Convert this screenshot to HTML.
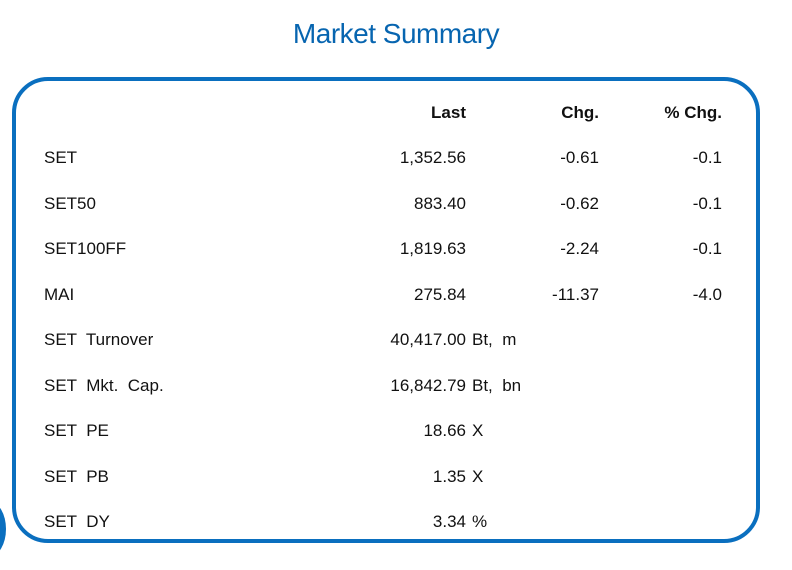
<!DOCTYPE html>
<html><head><meta charset="utf-8"><style>
body{margin:0;width:792px;height:570px;background:#fff;position:relative;overflow:hidden;font-family:"Liberation Sans",sans-serif;color:#111}
.t{position:absolute;left:0;width:792px;top:18px;text-align:center;font-size:28px;color:#0765b0;letter-spacing:-0.5px}
.box{position:absolute;left:12px;top:77px;width:740px;height:458px;border:4px solid #0a6fbf;border-radius:36px}
.c{position:absolute;left:-26px;top:502px;width:32px;height:54px;border-radius:50%;background:#0a6fbf}
.r{position:absolute;font-size:17px;white-space:pre;transform:translateY(-50%)}
.h{font-weight:bold}
.ra{text-align:right}
</style></head><body>
<div class="t">Market Summary</div>
<div class="box"></div>
<div class="c"></div>
<div id="tbl"></div>
<script>
const labels=["SET","SET50","SET100FF","MAI","SET  Turnover","SET  Mkt.  Cap.","SET  PE","SET  PB","SET  DY"];
const lastVals=["1,352.56","883.40","1,819.63","275.84","40,417.00","16,842.79","18.66","1.35","3.34"];
const units=["","","","","Bt,  m","Bt,  bn","X","X","%"];
const chgVals=["-0.61","-0.62","-2.24","-11.37","","","","",""];
const pctVals=["-0.1","-0.1","-0.1","-4.0","","","","",""];
const tbl=document.getElementById('tbl');
function add(txt,x,y,cls,right){
  const d=document.createElement('div');
  
  
  d.className='r '+cls;d.textContent=txt;d.style.top=y+'px';
  if(right){d.style.right=(792-x)+'px';}else{d.style.left=x+'px';}
  tbl.appendChild(d);
}
add('Last',466,113,'h',true);add('Chg.',599,113,'h',true);add('% Chg.',722,113,'h',true);
labels.forEach((l,i)=>{
  const y=158+i*45.5;
  add(l,44,y,'',false);
  add(lastVals[i],466,y,'',true);
  if(units[i])add(units[i],472,y,'',false);
  if(chgVals[i])add(chgVals[i],599,y,'',true);
  if(pctVals[i])add(pctVals[i],722,y,'',true);
});
</script>
</body></html>
